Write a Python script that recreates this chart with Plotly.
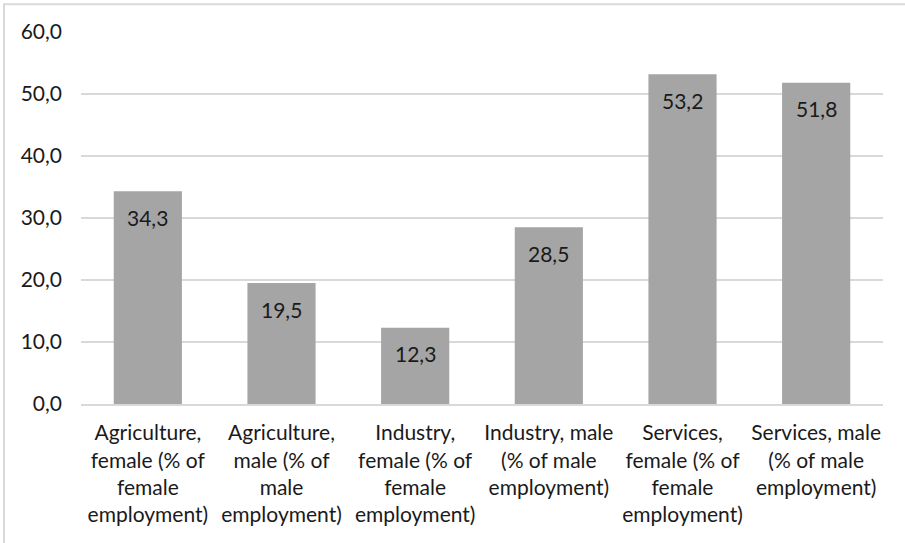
import plotly.graph_objects as go

# Employment share by sector and sex (%)
categories = [
    "Agriculture,<br>female (% of<br>female<br>employment)",
    "Agriculture,<br>male (% of<br>male<br>employment)",
    "Industry,<br>female (% of<br>female<br>employment)",
    "Industry, male<br>(% of male<br>employment)",
    "Services,<br>female (% of<br>female<br>employment)",
    "Services, male<br>(% of male<br>employment)",
]
values = [34.3, 19.5, 12.3, 28.5, 53.2, 51.8]
y_ticks = [0, 10, 20, 30, 40, 50, 60]

FONT = "Lato"
TEXT = "#1a1a1a"
GRID = "#D9D9D9"
BAR = "#A5A5A5"
SIZE = 21

fig = go.Figure(
    go.Bar(
        x=categories,
        y=values,
        marker=dict(color=BAR, line=dict(width=0)),
        hoverinfo="skip",
    )
)

# value labels sitting just under the top of each bar
for cat, v in zip(categories, values):
    fig.add_annotation(
        x=cat, y=v, xref="x", yref="y",
        text=f"{v:.1f}".replace(".", ","),
        showarrow=False, yanchor="middle", yshift=-26,
        font=dict(family=FONT, size=SIZE, color=TEXT),
    )

# light frame around the whole chart
fig.add_shape(
    type="rect", xref="paper", yref="paper",
    x0=-0.096, x1=1.04, y0=-0.40, y1=1.0745,
    line=dict(color=GRID, width=2), fillcolor="rgba(0,0,0,0)", layer="below",
)

fig.update_layout(
    width=905, height=543,
    margin=dict(l=81, r=22, t=32, b=139),
    paper_bgcolor="white", plot_bgcolor="white",
    separators=",.",
    bargap=0.49,
    showlegend=False,
    font=dict(family=FONT, size=SIZE, color=TEXT),
)
fig.update_xaxes(
    showgrid=False, showline=True, linecolor=GRID, linewidth=2,
    ticks="", tickfont=dict(family=FONT, size=SIZE, color=TEXT),
    ticklabelstandoff=9,
)
fig.update_yaxes(
    range=[0, 60], tickvals=y_ticks, tickformat=".1f",
    showgrid=True, gridcolor=GRID, gridwidth=2,
    zeroline=False, showline=False, ticks="",
    tickfont=dict(family=FONT, size=SIZE, color=TEXT),
    ticklabelstandoff=18,
)

fig.write_html("out.html")
